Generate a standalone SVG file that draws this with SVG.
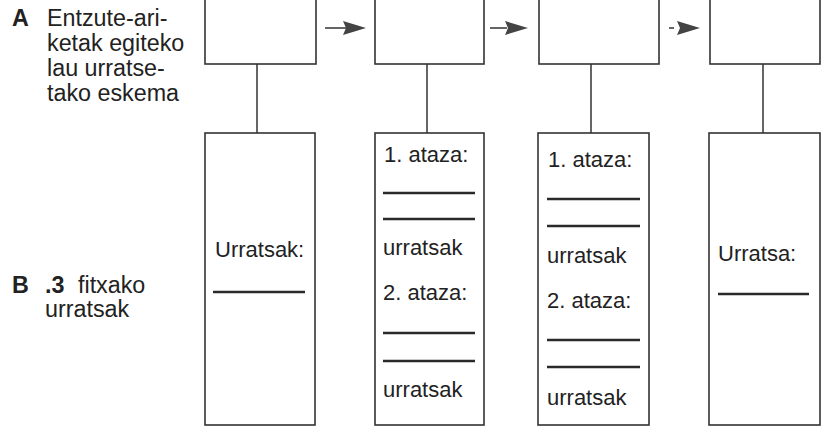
<svg xmlns="http://www.w3.org/2000/svg" width="825" height="427" viewBox="0 0 825 427">
<style>
.box{fill:#fff;stroke:#333;stroke-width:1.6}
.conn{stroke:#333;stroke-width:1.5;fill:none}
.rule{stroke:#2a2a2a;stroke-width:2.6}
.t{font-family:"Liberation Sans",Arial,sans-serif;font-size:22px;fill:#222}
.l{font-size:23.3px}
.b{font-weight:bold}
.head{fill:#444}
</style>
<rect width="825" height="427" fill="#fff"/>
<g id="label-A">
<text class="t l b" x="12" y="26">A</text>
<text class="t l" x="47" y="26">Entzute-ari-</text>
<text class="t l" x="47" y="51">ketak egiteko</text>
<text class="t l" x="47" y="76">lau urratse-</text>
<text class="t l" x="47" y="101">tako eskema</text>
</g>
<g id="label-B">
<text class="t l b" x="12" y="293">B</text>
<text class="t l b" x="45" y="293">.3</text>
<text class="t l" x="78" y="293">fitxako</text>
<text class="t l" x="45" y="317">urratsak</text>
</g>
<g id="top1"><rect class="box" x="205" y="-5" width="111" height="69"/></g>
<g id="top2"><rect class="box" x="375" y="-5" width="109" height="69"/></g>
<g id="top3"><rect class="box" x="539" y="-5" width="120" height="69"/></g>
<g id="top4"><rect class="box" x="710" y="-5" width="110" height="69"/></g>
<g id="connectors">
<line class="conn" x1="257" y1="64" x2="257" y2="133"/>
<line class="conn" x1="427" y1="64" x2="427" y2="133"/>
<line class="conn" x1="591" y1="64" x2="591" y2="133"/>
<line class="conn" x1="763" y1="64" x2="763" y2="133"/>
<line class="conn" x1="325" y1="28" x2="346" y2="28"/>
<polygon class="head" points="343,21 366,28 343,35 346,28"/>
<line class="conn" x1="490" y1="28" x2="507" y2="28"/>
<polygon class="head" points="505,21 528,28 505,35 508,28"/>
<line class="conn" x1="669" y1="28" x2="674" y2="28"/>
<polygon class="head" points="677,21 700,28 677,35 680,28"/>
</g>
<g id="bottom1">
<rect class="box" x="205" y="133" width="110" height="292"/>
<text class="t" x="215" y="257">Urratsak:</text>
<line class="rule" x1="213" y1="292" x2="305" y2="292"/>
</g>
<g id="bottom2">
<rect class="box" x="375" y="133" width="109" height="292"/>
<text class="t" x="384" y="162">1. ataza:</text>
<line class="rule" x1="383" y1="193" x2="475" y2="193"/>
<line class="rule" x1="383" y1="219" x2="475" y2="219"/>
<text class="t" x="383" y="255">urratsak</text>
<text class="t" x="383" y="300">2. ataza:</text>
<line class="rule" x1="383" y1="333" x2="475" y2="333"/>
<line class="rule" x1="383" y1="361" x2="475" y2="361"/>
<text class="t" x="383" y="397">urratsak</text>
</g>
<g id="bottom3">
<rect class="box" x="538" y="133" width="111" height="292"/>
<text class="t" x="548" y="167">1. ataza:</text>
<line class="rule" x1="547" y1="199" x2="640" y2="199"/>
<line class="rule" x1="547" y1="226" x2="640" y2="226"/>
<text class="t" x="547" y="263">urratsak</text>
<text class="t" x="547" y="308">2. ataza:</text>
<line class="rule" x1="547" y1="340" x2="640" y2="340"/>
<line class="rule" x1="547" y1="367" x2="640" y2="367"/>
<text class="t" x="547" y="405">urratsak</text>
</g>
<g id="bottom4">
<rect class="box" x="709" y="133" width="111" height="292"/>
<text class="t" x="718" y="261">Urratsa:</text>
<line class="rule" x1="718" y1="294" x2="809" y2="294"/>
</g>
</svg>
